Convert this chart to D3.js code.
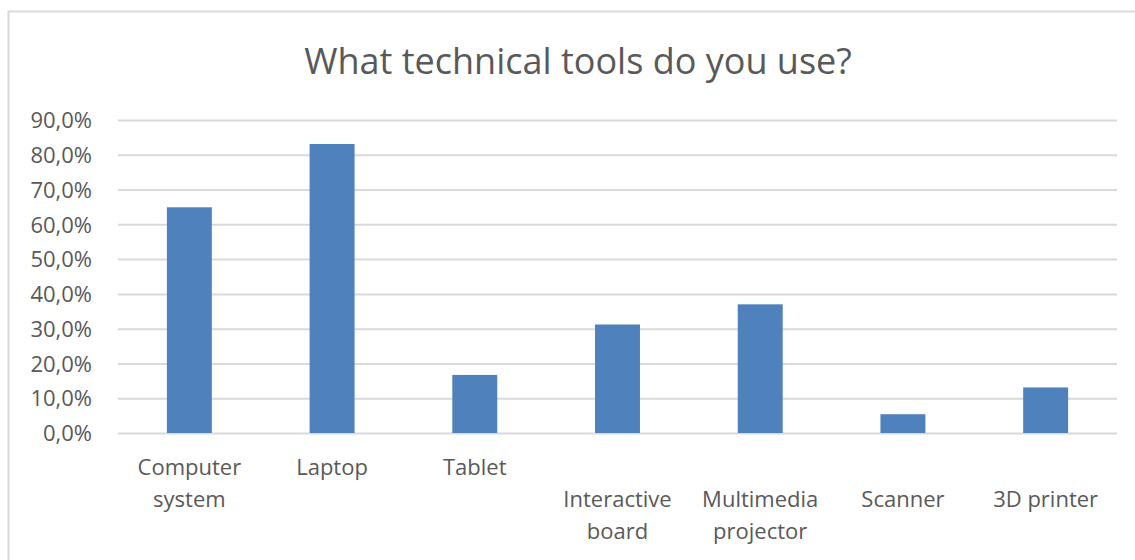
<!DOCTYPE html>
<html>
<head>
<meta charset="utf-8">
<script src="https://cdn.jsdelivr.net/npm/d3@7"></script>
<style>
  html, body { margin: 0; padding: 0; background: #fff; }
  svg { display: block; }
  text { font-family: "Open Sans", "Liberation Sans", sans-serif; fill: #595959; }
</style>
</head>
<body>
<svg id="chart" width="1135" height="560"></svg>
<script>
// Survey answers: share of respondents using each tool
const categories = ["Computer system", "Laptop", "Tablet", "Interactive board", "Multimedia projector", "Scanner", "3D printer"];
const labelLines = [["Computer", "system"], ["Laptop"], ["Tablet"], ["Interactive", "board"], ["Multimedia", "projector"], ["Scanner"], ["3D printer"]];
const labelRow = [0, 0, 0, 1, 1, 1, 1];
const values = [0.649, 0.831, 0.167, 0.312, 0.370, 0.054, 0.131];
const yTicks = [0, 0.1, 0.2, 0.3, 0.4, 0.5, 0.6, 0.7, 0.8, 0.9];
const title = "What technical tools do you use?";

const svg = d3.select("#chart");
const W = 1135, H = 560;
const margin = { left: 118, right: 18, top: 120, bottom: 127 };

// chart frame
svg.append("rect")
  .attr("x", 8.5).attr("y", 11.5)
  .attr("width", W + 10).attr("height", H + 10)
  .attr("fill", "#fff").attr("stroke", "#D9D9D9").attr("stroke-width", 2);

svg.append("text")
  .attr("x", 578).attr("y", 74)
  .attr("text-anchor", "middle")
  .style("font-size", "36px")
  .text(title);

const x = d3.scaleBand()
  .domain(categories)
  .range([margin.left, W - margin.right])
  .paddingInner(0.685)
  .paddingOuter(0.3425);

const y = d3.scaleLinear()
  .domain([0, 0.9])
  .range([H - margin.bottom, margin.top]);

const fmt = v => d3.format(".1%")(v).replace(".", ",");

// y axis: labels and gridlines
const yAxis = d3.axisLeft(y)
  .tickValues(yTicks)
  .tickFormat(fmt)
  .tickSize(-(W - margin.right - margin.left))
  .tickPadding(26);

const gy = svg.append("g")
  .attr("transform", `translate(${margin.left},0)`)
  .call(yAxis);
gy.select(".domain").remove();
gy.selectAll(".tick line").attr("stroke", "#D9D9D9").attr("stroke-width", 2);
gy.selectAll(".tick text")
  .style("font-size", "22px")
  .style("font-family", "'Open Sans', sans-serif")
  .attr("fill", "#595959")
  .attr("dy", "0.35em");

// bars
svg.append("g").selectAll("rect")
  .data(values)
  .join("rect")
  .attr("x", (d, i) => x(categories[i]))
  .attr("width", x.bandwidth())
  .attr("y", d => y(d))
  .attr("height", d => y(0) - y(d))
  .attr("fill", "#4F81BD");

// category labels (wrapped, staggered rows)
const lineH = 32;
const firstBase = 475;
const gl = svg.append("g");
categories.forEach((c, i) => {
  const cx = x(c) + x.bandwidth() / 2;
  labelLines[i].forEach((ln, j) => {
    gl.append("text")
      .attr("x", cx)
      .attr("y", firstBase + (labelRow[i] + j) * lineH)
      .attr("text-anchor", "middle")
      .style("font-size", "22px")
      .text(ln);
  });
});
</script>
</body>
</html>
